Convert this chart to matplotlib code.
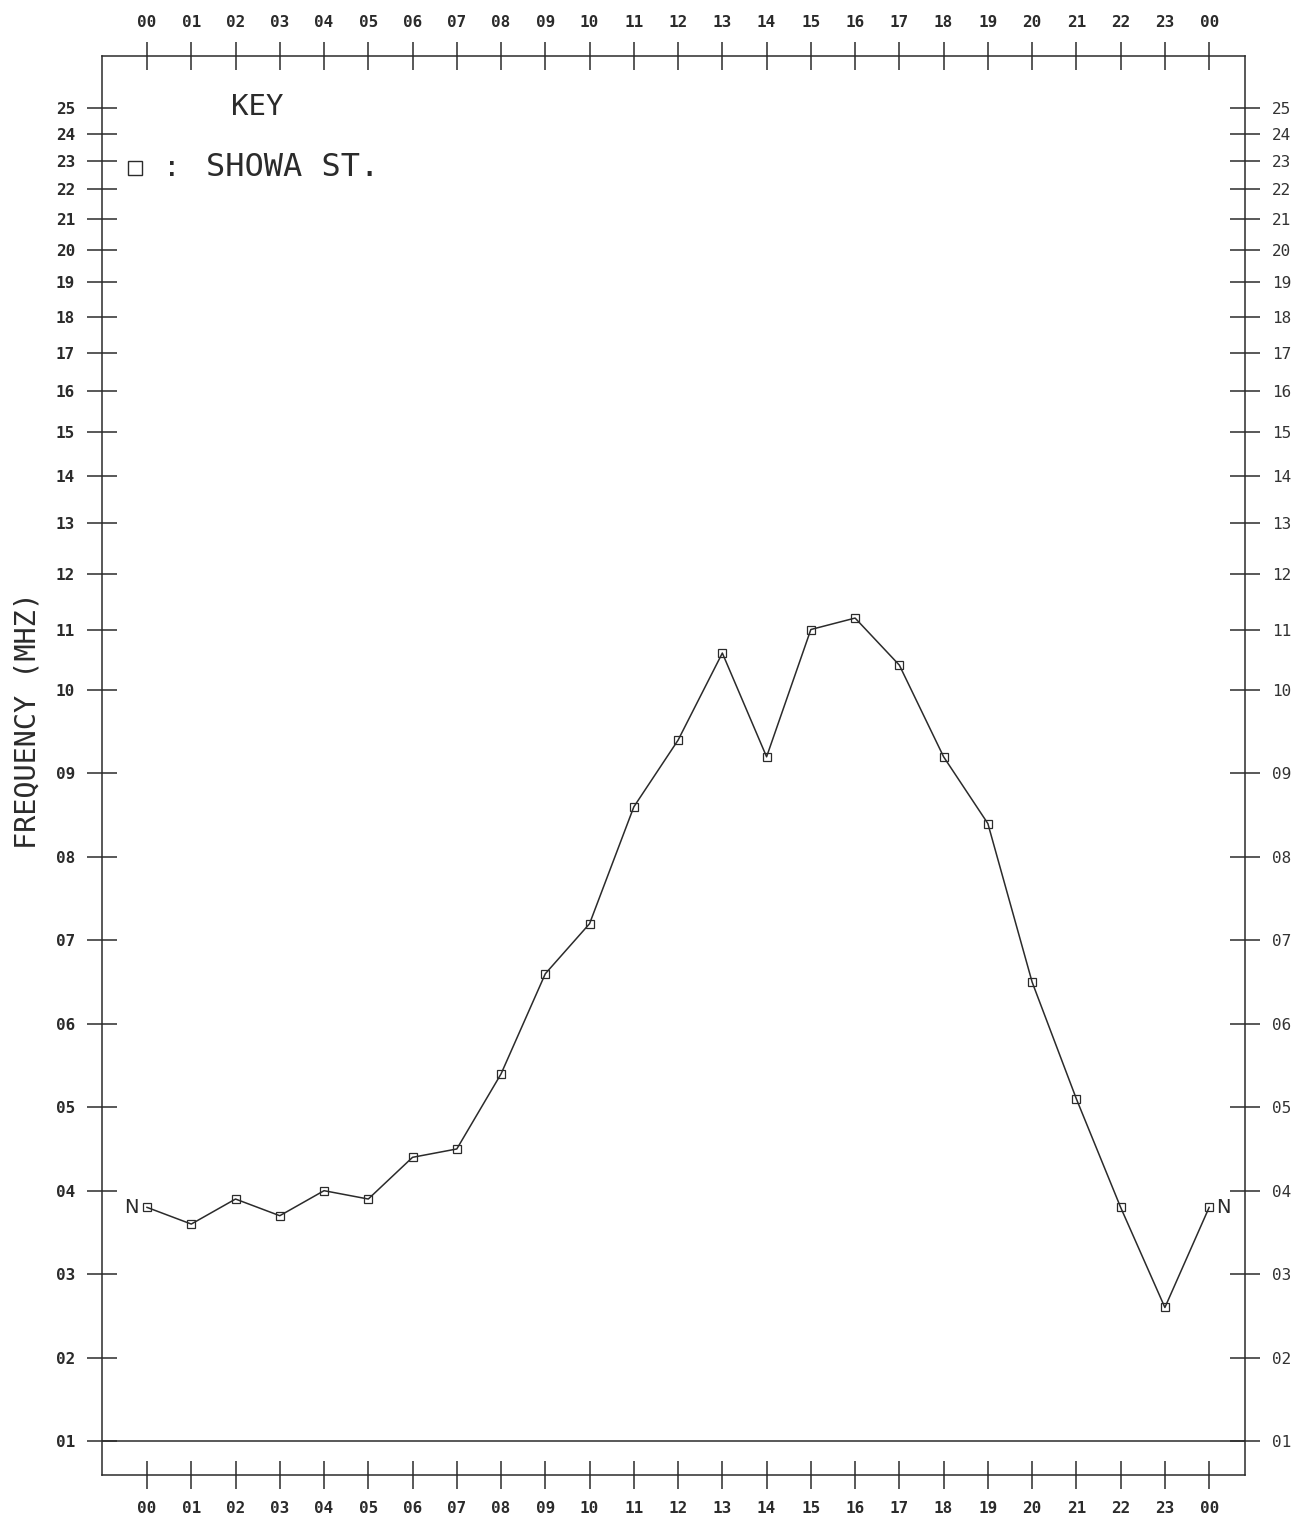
import numpy as np
import matplotlib
matplotlib.use("Agg")
import matplotlib.pyplot as plt

# hourly median foF2, Showa station
hours = list(range(25))
fof2 = [3.8, 3.6, 3.9, 3.7, 4.0, 3.9, 4.4, 4.5, 5.4, 6.6, 7.2, 8.6, 9.4,
        10.6, 9.2, 11.0, 11.2, 10.4, 9.2, 8.4, 6.5, 5.1, 3.8, 2.6, 3.8]
qualifiers = ['N'] + [''] * 23 + ['N']
hour_labels = ['%02d' % (h % 24) for h in hours]
freq_ticks = list(range(1, 26))
freq_labels = ['%02d' % f for f in freq_ticks]
station = 'SHOWA ST.'

# frequency axis: linear up to 10 MHz, logarithmic above
K = 7.614


def fwd(f):
    f = np.asarray(f, dtype=float)
    out = f.copy()
    hi = f > 10
    out[hi] = 10 + K * np.log(f[hi] / 10.0)
    return out


def inv(t):
    t = np.asarray(t, dtype=float)
    out = t.copy()
    hi = t > 10
    out[hi] = 10 * np.exp((t[hi] - 10) / K)
    return out


W, H = 1296, 1521
INK = '#2b2b2b'
MONO = 'DejaVu Sans Mono'

fig = plt.figure(figsize=(W / 100, H / 100), dpi=100)
fig.patch.set_facecolor('white')

left, right, top, bottom = 102, 1245, 56, 1475
ax = fig.add_axes([left / W, 1 - bottom / H, (right - left) / W, (bottom - top) / H])

ax.set_yscale('function', functions=(fwd, inv))
ax.set_xlim(-1.017, 24.81)
ax.set_ylim(0.5925, 27.13)

for s in ax.spines.values():
    s.set_color(INK)
    s.set_linewidth(1.1)

ax.set_xticks(hours)
ax.set_xticklabels(hour_labels, fontfamily=MONO, fontsize=11.5, fontweight='bold', color=INK)
ax.set_yticks(freq_ticks)
ax.set_yticklabels(freq_labels, fontfamily=MONO, fontsize=11.5, fontweight='bold', color=INK)
ax.yaxis.set_minor_locator(matplotlib.ticker.NullLocator())
ax.tick_params(axis='x', which='major', direction='inout', length=20, width=1.1,
               color=INK, top=True, labeltop=True, pad=9)
ax.tick_params(axis='y', which='major', direction='inout', length=21, width=1.1,
               color=INK, right=True, labelright=True, pad=9)
# lighter labels on the right side
for t in ax.yaxis.get_major_ticks():
    t.label2.set_fontweight('normal')
    t.label2.set_fontsize(11.5)
    t.label2.set_fontfamily(MONO)
    t.label2.set_color('#333333')

# baseline at 1 MHz
ax.axhline(1, color=INK, lw=1.1)

ax.plot(hours, fof2, '-', color=INK, lw=1.1, marker='s', ms=5.5,
        mfc='none', mec=INK, mew=0.9)

for h, f, q in zip(hours, fof2, qualifiers):
    if not q:
        continue
    if h == 0:
        ax.annotate(q, (h, f), xytext=(-6, 0), textcoords='offset points',
                    ha='right', va='center', fontsize=14, color=INK)
    else:
        ax.annotate(q, (h, f), xytext=(5, 0), textcoords='offset points',
                    ha='left', va='center', fontsize=14, color=INK)

# key
fig.text(257 / W, 1 - 107 / H, 'KEY', ha='center', va='center',
         fontfamily=MONO, fontsize=21, color=INK)
ax.plot([135 / W], [1 - 168 / H], transform=fig.transFigure, marker='s',
        ms=10, mfc='none', mec=INK, mew=1.0, clip_on=False)
fig.text(172 / W, 1 - 168 / H, ':', ha='center', va='center',
         fontfamily=MONO, fontsize=21, color=INK)
fig.text(206 / W, 1 - 168 / H, station, ha='left', va='center',
         fontfamily=MONO, fontsize=23, color=INK)

fig.text(28 / W, 1 - 721 / H, 'FREQUENCY (MHZ)', rotation=90, ha='center',
         va='center', fontfamily=MONO, fontsize=20.5, color=INK)

fig.savefig('out.png', dpi=100, facecolor='white')
